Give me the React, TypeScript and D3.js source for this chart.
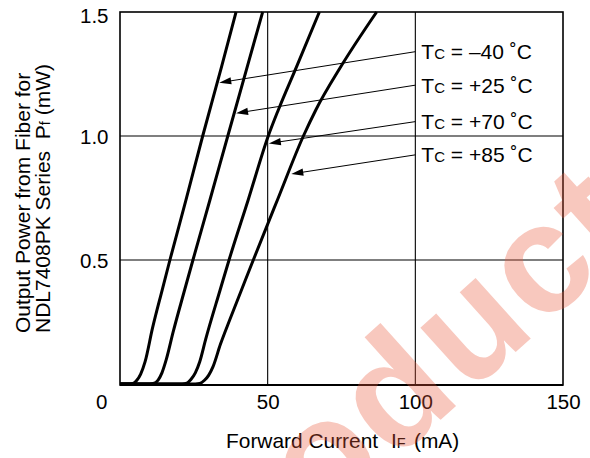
import React from "react";
import * as d3 from "d3";

// Forward current (mA) and output power (mW) for each case temperature
const currentM40 = [0, 3.2, 4.4, 5.7, 7.0, 8.5, 11.0, 14.3, 16.9, 22.3, 28.0, 34.4, 39.3];
const powerM40 = [0, 0, 0.002, 0.015, 0.04, 0.09, 0.225, 0.38, 0.5, 0.74, 1.0, 1.28, 1.5];

const currentP25 = [0, 10.0, 11.3, 12.9, 14.2, 15.7, 18.0, 21.9, 24.7, 30.4, 36.5, 43.1, 48.3];
const powerP25 = [0, 0, 0.002, 0.016, 0.045, 0.1, 0.21, 0.38, 0.5, 0.74, 1.0, 1.28, 1.5];

const currentP70 = [0, 21.0, 22.6, 24.0, 25.5, 27.0, 29.0, 33.9, 37.0, 43.4, 50.2, 53.6, 59.8, 67.5];
const powerP70 = [0, 0, 0.003, 0.018, 0.045, 0.09, 0.18, 0.379, 0.503, 0.742, 1.0, 1.105, 1.28, 1.5];

const currentP85 = [0, 25.5, 27.0, 28.6, 30.0, 31.5, 34.0, 37.2, 41.0, 44.8, 53.3, 62.1, 66.3, 74.8, 86.9];
const powerP85 = [0, 0, 0.002, 0.015, 0.035, 0.07, 0.16, 0.26, 0.375, 0.49, 0.742, 1.0, 1.105, 1.28, 1.5];

const seriesCurrents = [currentM40, currentP25, currentP70, currentP85];
const seriesPowers = [powerM40, powerP25, powerP70, powerP85];
const seriesTemps = ["\u201340", "+25", "+70", "+85"];

// annotation arrows: label anchor (mA, mW) -> arrow tip (mA, mW)
const labelCurrent = [100, 100, 100, 100];
const labelPower = [1.34, 1.205, 1.058, 0.924];
const tipCurrent = [33.6, 39.3, 50.4, 58.0];
const tipPower = [1.215, 1.092, 0.97, 0.847];

const xTicks = [50, 100, 150];
const yTicks = [0.5, 1.0, 1.5];
const xGrid = [50, 100];
const yGrid = [0.5, 1.0];

const FONT = "'Liberation Sans', Arial, Helvetica, sans-serif";

export default function App() {
  const W = 590;
  const H = 458;
  const left = 120, right = 563, top = 12, bottom = 384;
  const x = d3.scaleLinear().domain([0, 150]).range([left, right]);
  const y = d3.scaleLinear().domain([0, 1.5]).range([bottom, top]);

  const line = d3
    .line<[number, number]>()
    .x((d) => x(d[0]))
    .y((d) => y(d[1]))
    .curve(d3.curveMonotoneX);

  const tickSize = 20.5;

  return (
    <svg width={W} height={H} style={{ position: "absolute", left: 0, top: 0, background: "#fff" }} fontFamily={FONT}>
      <rect x={0} y={0} width={W} height={H} fill="#fff" />
      {/* grid */}
      {xGrid.map((v) => (
        <line key={"gx" + v} x1={x(v)} x2={x(v)} y1={y(1.5)} y2={y(0)} stroke="#000" strokeWidth={1.1} />
      ))}
      {yGrid.map((v) => (
        <line key={"gy" + v} x1={x(0)} x2={x(150)} y1={y(v)} y2={y(v)} stroke="#000" strokeWidth={1.1} />
      ))}
      {/* frame */}
      <rect x={x(0)} y={y(1.5)} width={x(150) - x(0)} height={y(0) - y(1.5) + 1} fill="none" stroke="#000" strokeWidth={1.6} />
      <line x1={x(0)} x2={x(150)} y1={y(0) + 1} y2={y(0) + 1} stroke="#000" strokeWidth={2.2} />

      {/* curves */}
      {seriesCurrents.map((cs, i) => {
        const pts: [number, number][] = cs.map((c, j) => [c, seriesPowers[i][j]]);
        return <path key={"c" + i} d={line(pts) || ""} fill="none" stroke="#000" strokeWidth={3} strokeLinejoin="round" />;
      })}

      {/* arrows + labels */}
      {seriesTemps.map((t, i) => {
        const sx = x(labelCurrent[i]);
        const sy = y(labelPower[i]);
        const tx = x(tipCurrent[i]);
        const ty = y(tipPower[i]);
        const dx = tx - sx, dy = ty - sy;
        const len = Math.hypot(dx, dy);
        const ux = dx / len, uy = dy / len;
        const L = 12, hw = 3.6;
        const bx = tx - ux * L, by = ty - uy * L;
        const head = `${tx},${ty} ${bx - uy * hw},${by + ux * hw} ${bx + uy * hw},${by - ux * hw}`;
        return (
          <g key={"a" + i}>
            <line x1={sx} y1={sy} x2={bx + ux * 2} y2={by + uy * 2} stroke="#000" strokeWidth={1} />
            <polygon points={head} fill="#000" />
            <text x={sx + 6} y={sy + 7.5} fontSize={21} fill="#000">
              T<tspan fontSize={15}>C</tspan> = {t} {"\u02DA"}C
            </text>
          </g>
        );
      })}

      {/* y tick labels */}
      {yTicks.map((v) => (
        <text key={"yt" + v} x={108.5} y={Math.max(y(v) + 7.5, 23.3)} textAnchor="end" fontSize={tickSize} fill="#000">
          {v.toFixed(1)}
        </text>
      ))}
      <text x={107.5} y={409.3} textAnchor="end" fontSize={tickSize} fill="#000">0</text>
      {/* x tick labels */}
      {xTicks.map((v) => (
        <text key={"xt" + v} x={x(v) + 0.5} y={409.3} textAnchor="middle" fontSize={tickSize} fill="#000">
          {v}
        </text>
      ))}

      {/* axis titles */}
      <text x={226} y={448.3} fontSize={20.9} fill="#000">
        <tspan>Forward Current</tspan>
        <tspan x={391}>I</tspan>
        <tspan fontSize={14.5}>F</tspan>
        <tspan x={414}>(mA)</tspan>
      </text>
      <g transform="translate(29.5,333) rotate(-90)">
        <text x={0} y={0} fontSize={21} fill="#000">Output Power from Fiber for</text>
      </g>
      <g transform="translate(50,333) rotate(-90)">
        <text x={0} y={0} fontSize={21} fill="#000" style={{ whiteSpace: "pre" }}>
          {"NDL7408PK Series  P"}<tspan fontSize={14.5}>f</tspan>{" (mW)"}
        </text>
      </g>

      {/* watermark */}
      <g transform="translate(468,395) rotate(-42)" fontSize={155} fontWeight="bold" fill="rgb(235,90,60)" opacity={0.33} letterSpacing={3}>
        <text x={-3} y={0} textAnchor="end">Prod</text>
        <text x={0} y={0}>uct</text>
      </g>
    </svg>
  );
}
